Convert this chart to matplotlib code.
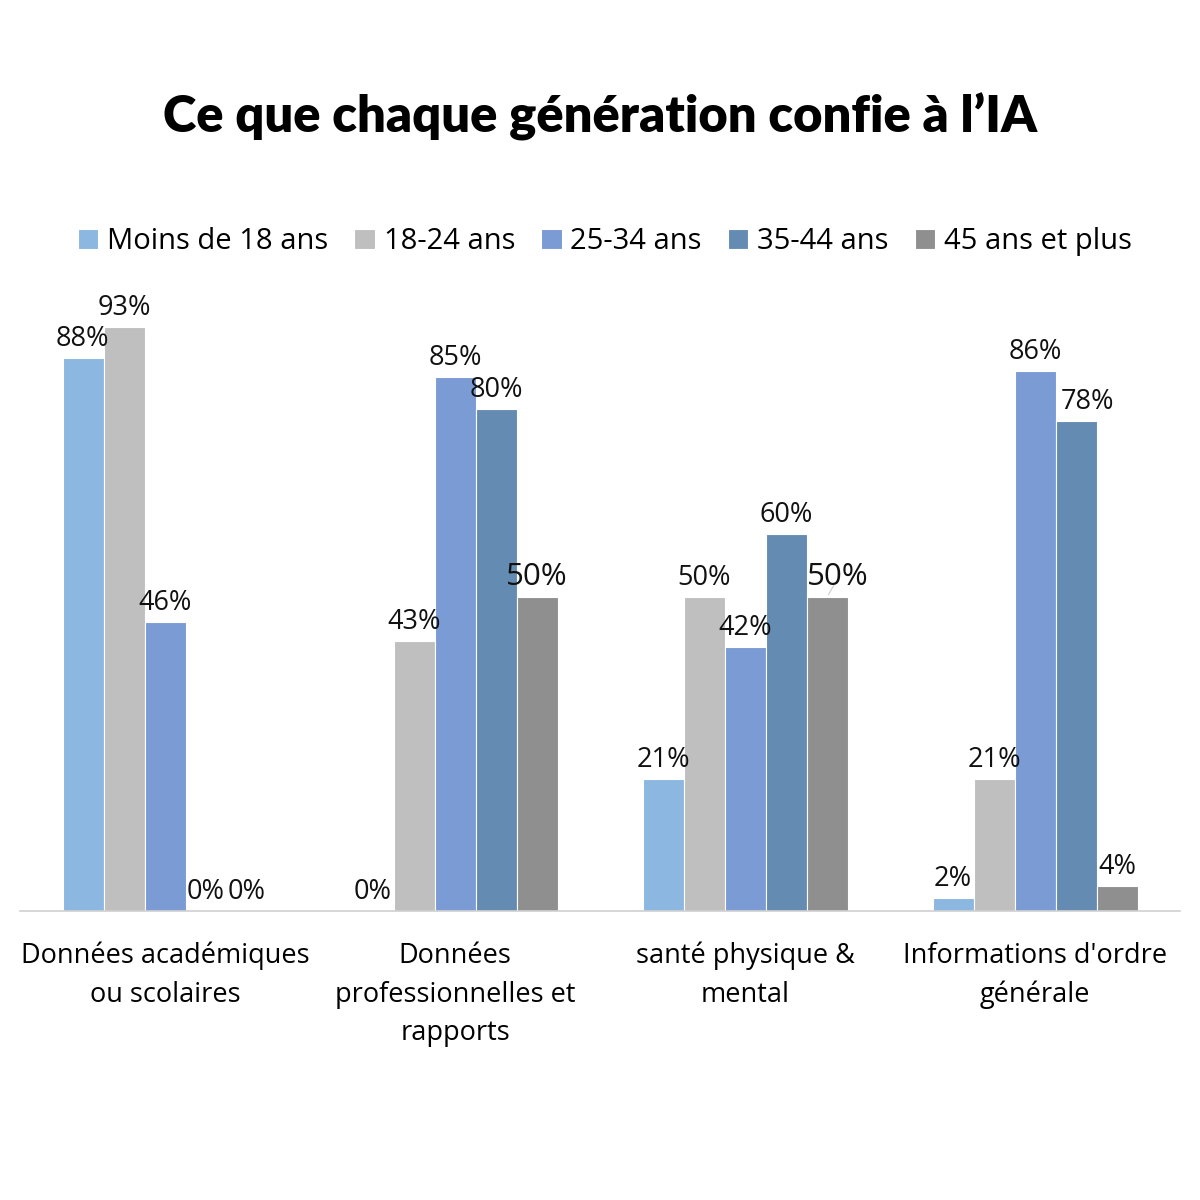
import matplotlib.pyplot as plt
import numpy as np

plt.rcParams['font.family'] = ['Open Sans', 'DejaVu Sans']

categories = ["Données académiques\nou scolaires",
              "Données\nprofessionnelles et\nrapports",
              "santé physique &\nmental",
              "Informations d'ordre\ngénérale"]
series = ["Moins de 18 ans", "18-24 ans", "25-34 ans", "35-44 ans", "45 ans et plus"]
values = [
    [88, 0, 21, 2],    # Moins de 18 ans
    [93, 43, 50, 21],  # 18-24 ans
    [46, 85, 42, 86],  # 25-34 ans
    [0, 80, 60, 78],   # 35-44 ans
    [0, 50, 50, 4],    # 45 ans et plus
]
colors = ["#8BB7E0", "#BFBFBF", "#7B9BD5", "#648CB2", "#8F8F8F"]

fig = plt.figure(figsize=(12, 12), dpi=100)
ax = fig.add_axes([0.0167, 0.2408, 0.9667, 0.5233])

x = np.arange(len(categories))
w = 0.1414
for j, (name, vals) in enumerate(zip(series, values)):
    pos = x + (j - 2) * w
    ax.bar(pos, vals, width=w, color=colors[j], edgecolor='white', linewidth=0.8, label=name)
    for i, v in enumerate(vals):
        big = (j == 4 and i in (1, 2))
        dx = 0
        if j == 3 and i == 3:
            dx = 11
        if j == 4 and i == 2:
            dx = 11
        if j == 0 and i == 0:
            dx = -1
        ax.annotate(f"{v}%", (pos[i], v), xytext=(dx, 5), textcoords='offset pixels',
                    ha='center', va='bottom', fontsize=22.5 if big else 19.5, color='#111111')

# leader line for 50% in group 3
ax.annotate("", (x[2] + 2 * w, values[4][2]), xytext=(8, 14), textcoords='offset pixels',
            arrowprops=dict(arrowstyle='-', color='#cccccc', lw=0.8))

ax.set_xlim(-0.5, len(categories) - 0.5)
ax.set_ylim(0, 100)
ax.set_xticks(x)
ax.set_xticklabels(categories, fontsize=19.5, linespacing=1.52)
ax.tick_params(axis='x', length=0, pad=22)
ax.set_yticks([])
for s in ['top', 'right', 'left']:
    ax.spines[s].set_visible(False)
ax.spines['bottom'].set_color('#d0d0d0')
ax.spines['bottom'].set_linewidth(1.2)

fig.legend(loc='center', bbox_to_anchor=(0.504, 0.7985), ncol=5, frameon=False,
           fontsize=21, handlelength=0.7, handleheight=0.7, handletextpad=0.3,
           columnspacing=0.9)

fig.text(0.5, 0.903, "Ce que chaque génération confie à l’IA", ha='center', va='center',
         fontsize=36.5, fontweight='heavy', family=['Lato', 'DejaVu Sans'])

fig.savefig('out.png', dpi=100, facecolor='white')
